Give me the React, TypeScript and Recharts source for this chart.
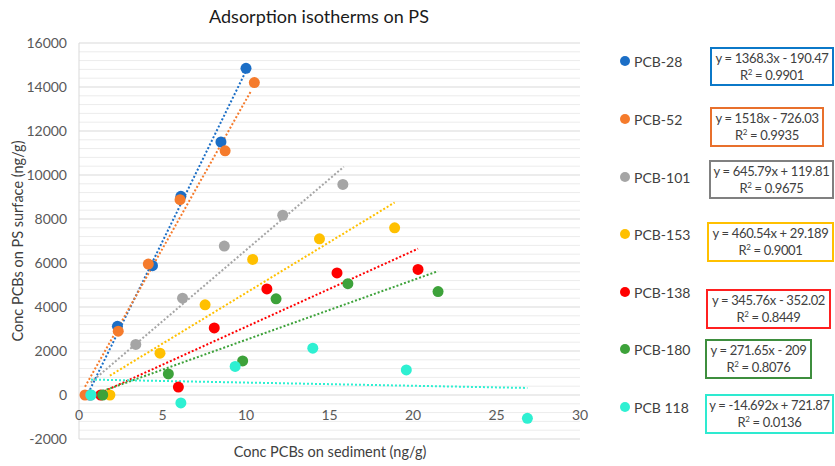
import {
  ScatterChart,
  Scatter,
  XAxis,
  YAxis,
  CartesianGrid,
  ReferenceLine,
} from 'recharts';

const FONT = 'Lato, "Open Sans", sans-serif';

const NAMES = ['PCB-28', 'PCB-52', 'PCB-101', 'PCB-153', 'PCB-138', 'PCB-180', 'PCB 118'];
const COLORS = ['#1B6EC6', '#F57B2C', '#A5A5A5', '#FFC000', '#FF0000', '#3DA23A', '#2EF0D2'];
const BOX_COLORS = ['#0B78C8', '#E8702C', '#808080', '#FFC000', '#FF2020', '#3E8E3E', '#2EEAD0'];

// sediment conc (x) and PS surface conc (y)
const X_VALUES = [
  [0.65, 2.3, 4.4, 6.1, 8.5, 10.0],
  [0.36, 2.35, 4.15, 6.05, 8.75, 10.5],
  [0.7, 3.4, 6.2, 8.7, 12.2, 15.8],
  [1.85, 4.85, 7.55, 10.4, 14.4, 18.9],
  [1.3, 5.95, 8.1, 11.25, 15.45, 20.3],
  [1.42, 5.35, 9.8, 11.8, 16.1, 21.5],
  [0.72, 6.1, 9.35, 14.0, 19.6, 26.85],
];
const Y_VALUES = [
  [0, 3120, 5880, 9030, 11500, 14850],
  [0, 2900, 5950, 8880, 11100, 14200],
  [0, 2300, 4400, 6770, 8170, 9570],
  [0, 1900, 4100, 6160, 7100, 7600],
  [0, 360, 3050, 4820, 5550, 5710],
  [0, 960, 1550, 4370, 5060, 4700],
  [0, -360, 1300, 2130, 1140, -1060],
];

// dotted trendline ends as drawn on the chart
const TREND_START = [
  { x: 0.55, y: 80 },
  { x: 0.36, y: 380 },
  { x: 0.7, y: 570 },
  { x: 1.85, y: 880 },
  { x: 1.3, y: 100 },
  { x: 1.42, y: 180 },
  { x: 0.72, y: 700 },
];
const TREND_END = [
  { x: 9.98, y: 14700 },
  { x: 10.3, y: 13820 },
  { x: 15.85, y: 10370 },
  { x: 18.9, y: 8750 },
  { x: 20.3, y: 6650 },
  { x: 21.5, y: 5630 },
  { x: 26.85, y: 320 },
];

const EQUATIONS = [
  'y = 1368.3x - 190.47',
  'y = 1518x - 726.03',
  'y = 645.79x + 119.81',
  'y = 460.54x + 29.189',
  'y = 345.76x - 352.02',
  'y = 271.65x - 209',
  'y = -14.692x + 721.87',
];
const R2 = ['0.9901', '0.9935', '0.9675', '0.9001', '0.8449', '0.8076', '0.0136'];

const Y_TICKS = [-2000, 0, 2000, 4000, 6000, 8000, 10000, 12000, 14000, 16000];
const X_TICKS = [0, 5, 10, 15, 20, 25, 30];

// layout of the legend column and equation boxes
const LEGEND_Y = [61, 119, 177, 234, 292, 349, 407];
const BOXES = [
  { left: 710, top: 47, width: 124, height: 39 },
  { left: 710, top: 107, width: 114, height: 40 },
  { left: 709, top: 160, width: 125, height: 39 },
  { left: 707, top: 222, width: 127, height: 40 },
  { left: 706, top: 289, width: 125, height: 40 },
  { left: 705, top: 339, width: 107, height: 40 },
  { left: 705, top: 394, width: 129, height: 40 },
];

const minorLines: number[] = [];
for (let v = -2000; v <= 16000; v += 400) if (v % 2000 !== 0) minorLines.push(v);

const seriesData = NAMES.map((name, i) => ({
  name,
  color: COLORS[i],
  points: X_VALUES[i].map((x, j) => ({ x, y: Y_VALUES[i][j] })),
}));

function XTick({ x, y, payload }: any) {
  return (
    <text x={x} y={y - 27} textAnchor="middle" fill="#595959" fontSize={14} fontFamily={FONT}>
      {payload.value}
    </text>
  );
}

export default function App() {
  return (
    <div style={{ position: 'absolute', left: 0, top: 0, width: 835, height: 466, background: '#fff', fontFamily: FONT }}>
      <div style={{ position: 'absolute', left: 0, width: 638, top: 5, textAlign: 'center', fontSize: 18, color: '#1a1a1a' }}>
        Adsorption isotherms on PS
      </div>
      <ScatterChart width={835} height={466} margin={{ top: 43, right: 255, left: 0, bottom: 0 }}>
        {minorLines.map((v) => (
          <ReferenceLine key={v} y={v} stroke="#ececec" strokeWidth={1} />
        ))}
        <CartesianGrid vertical={false} stroke="#d9d9d9" />
        <XAxis
          type="number"
          dataKey="x"
          domain={[0, 30]}
          ticks={X_TICKS}
          height={27}
          axisLine={false}
          tickLine={false}
          tick={<XTick />}
          interval={0}
        />
        <YAxis
          type="number"
          dataKey="y"
          domain={[-2000, 16000]}
          ticks={Y_TICKS}
          width={79}
          axisLine={{ stroke: '#d9d9d9' }}
          tickLine={false}
          tick={{ fill: '#595959', fontSize: 14, fontFamily: FONT }}
          tickMargin={6}
          interval={0}
          label={{
            value: 'Conc PCBs on PS surface (ng/g)',
            angle: -90,
            position: 'insideLeft',
            offset: 18,
            style: { textAnchor: 'middle', fill: '#404040', fontSize: 14.5, fontFamily: FONT },
          }}
        />
        {seriesData.map((s) => (
          <Scatter
            key={s.name}
            name={s.name}
            data={s.points}
            fill={s.color}
            isAnimationActive={false}
            shape={(p: any) => <circle cx={p.cx} cy={p.cy} r={5.5} fill={s.color} />}
          />
        ))}
        {seriesData.map((s, i) => (
          <ReferenceLine
            key={'t' + s.name}
            ifOverflow="visible"
            stroke={s.color}
            strokeWidth={2}
            strokeDasharray="2 2"
            segment={[TREND_START[i], TREND_END[i]]}
          />
        ))}
      </ScatterChart>
      <div style={{ position: 'absolute', left: 0, width: 660, top: 443, textAlign: 'center', fontSize: 14.5, color: '#404040' }}>
        Conc PCBs on sediment (ng/g)
      </div>
      {NAMES.map((name, i) => (
        <div key={name}>
          <div
            style={{
              position: 'absolute',
              left: 620,
              top: LEGEND_Y[i] - 9,
              height: 18,
              display: 'flex',
              alignItems: 'center',
              fontSize: 14,
              color: '#404040',
            }}
          >
            <span style={{ width: 10, height: 10, borderRadius: 5, background: COLORS[i], marginRight: 4, display: 'inline-block' }} />
            {name}
          </div>
          <div
            style={{
              position: 'absolute',
              boxSizing: 'border-box',
              ...BOXES[i],
              border: `2px solid ${BOX_COLORS[i]}`,
              fontSize: 13,
              letterSpacing: -0.35,
              color: '#404040',
              textAlign: 'center',
              lineHeight: '17px',
              paddingTop: 1,
              whiteSpace: 'nowrap',
            }}
          >
            <div>{EQUATIONS[i]}</div>
            <div>
              R<sup style={{ fontSize: 8, lineHeight: 0 }}>2</sup> = {R2[i]}
            </div>
          </div>
        </div>
      ))}
    </div>
  );
}
